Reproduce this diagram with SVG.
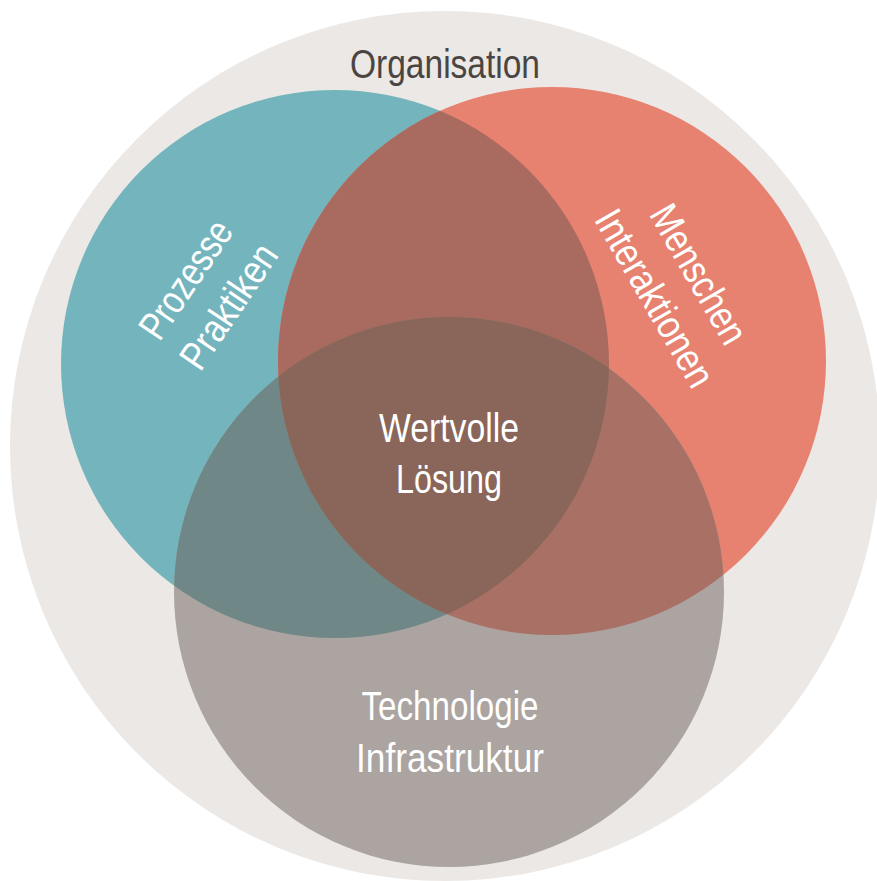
<svg xmlns="http://www.w3.org/2000/svg" width="877" height="881" viewBox="0 0 877 881">
  <style>
    .lbl { font-family: "Liberation Sans", "DejaVu Sans", Arial, sans-serif; font-size: 40px; fill: #ffffff; text-anchor: middle; }
    .dark { fill: #4a4542; }
  </style>
  <defs>
    <clipPath id="cTeal"><circle cx="335" cy="364" r="274"/></clipPath>
    <clipPath id="cRed"><circle cx="552" cy="361" r="274"/></clipPath>
    <clipPath id="cGray"><circle cx="449" cy="592" r="275"/></clipPath>
  </defs>
  <rect width="877" height="881" fill="#ffffff"/>
  <g id="organisation">
    <circle cx="445" cy="446" r="435" fill="#ebe8e5"/>
    <text class="lbl dark" x="445" y="78" textLength="190" lengthAdjust="spacingAndGlyphs">Organisation</text>
  </g>
  <g id="prozesse">
    <circle cx="335" cy="364" r="274" fill="#74b5bd"/>
  </g>
  <g id="menschen">
    <circle cx="552" cy="361" r="274" fill="#e88270"/>
  </g>
  <g id="technologie">
    <circle cx="449" cy="592" r="275" fill="#aba4a0"/>
  </g>
  <g id="overlaps">
    <circle cx="552" cy="361" r="274" fill="#a96b5f" clip-path="url(#cTeal)"/>
    <circle cx="449" cy="592" r="275" fill="#6f8787" clip-path="url(#cTeal)"/>
    <circle cx="449" cy="592" r="275" fill="#a97165" clip-path="url(#cRed)"/>
    <g clip-path="url(#cRed)">
      <circle cx="449" cy="592" r="275" fill="#896659" clip-path="url(#cTeal)"/>
    </g>
  </g>
  <g id="labels">
    <g id="label-prozesse">
      <text class="lbl" transform="translate(197,287) rotate(-56)" textLength="134" lengthAdjust="spacingAndGlyphs">Prozesse</text>
      <text class="lbl" transform="translate(240,314) rotate(-56)" textLength="142" lengthAdjust="spacingAndGlyphs">Praktiken</text>
    </g>
    <g id="label-menschen">
      <text class="lbl" transform="translate(687,281) rotate(60)" textLength="154" lengthAdjust="spacingAndGlyphs">Menschen</text>
      <text class="lbl" transform="translate(643,305) rotate(60)" textLength="198" lengthAdjust="spacingAndGlyphs">Interaktionen</text>
    </g>
    <g id="label-center">
      <text class="lbl" x="449" y="442" textLength="140" lengthAdjust="spacingAndGlyphs">Wertvolle</text>
      <text class="lbl" x="449" y="493" textLength="106" lengthAdjust="spacingAndGlyphs">Lösung</text>
    </g>
    <g id="label-technologie">
      <text class="lbl" x="450" y="720" textLength="177" lengthAdjust="spacingAndGlyphs">Technologie</text>
      <text class="lbl" x="450" y="772" textLength="188" lengthAdjust="spacingAndGlyphs">Infrastruktur</text>
    </g>
  </g>
  <g id="connectors"/>
</svg>
